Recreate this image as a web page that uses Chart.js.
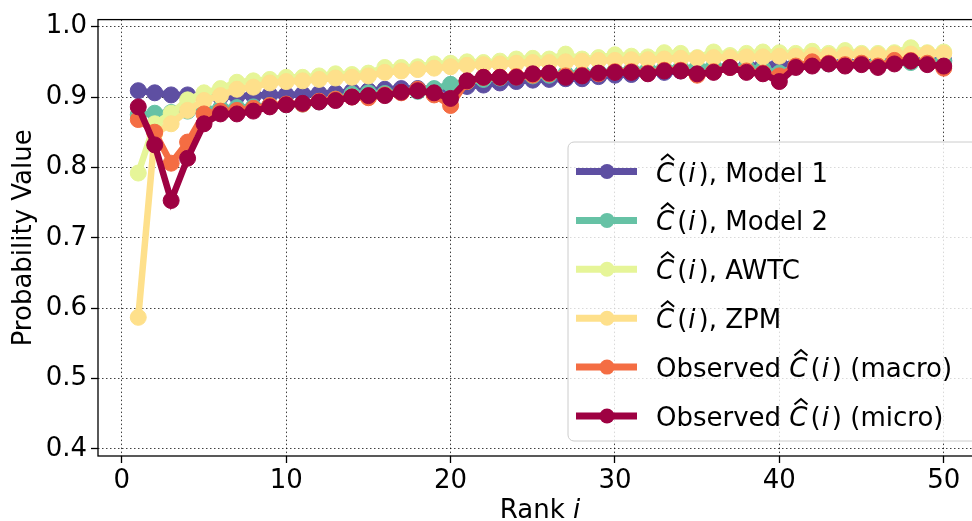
<!DOCTYPE html>
<html>
<head>
<meta charset="utf-8">
<script src="https://cdn.jsdelivr.net/npm/chart.js@4.4.1/dist/chart.umd.min.js"></script>
<style>
  html, body { margin: 0; padding: 0; background: #fff; overflow: hidden; }
  #wrap { width: 972px; height: 521px; overflow: hidden; }
</style>
</head>
<body>
<div id="wrap"><canvas id="rankChart" width="990" height="521"></canvas></div>
<script>
// rank positions on the x axis
const ranks = [1, 2, 3, 4, 5, 6, 7, 8, 9, 10, 11, 12, 13, 14, 15, 16, 17, 18, 19, 20,
               21, 22, 23, 24, 25, 26, 27, 28, 29, 30, 31, 32, 33, 34, 35, 36, 37, 38, 39, 40,
               41, 42, 43, 44, 45, 46, 47, 48, 49, 50];

const model1 = [0.909, 0.906, 0.903, 0.903, 0.900, 0.900, 0.901, 0.902, 0.903, 0.903,
                0.904, 0.905, 0.906, 0.908, 0.909, 0.911, 0.912, 0.912, 0.911, 0.913,
                0.915, 0.917, 0.920, 0.922, 0.924, 0.925, 0.926, 0.926, 0.929, 0.931,
                0.932, 0.934, 0.935, 0.937, 0.939, 0.941, 0.942, 0.944, 0.945, 0.947,
                0.946, 0.947, 0.948, 0.949, 0.949, 0.950, 0.951, 0.951, 0.952, 0.952];
const model2 = [0.875, 0.877, 0.878, 0.880, 0.882, 0.884, 0.885, 0.886, 0.888, 0.889,
                0.890, 0.893, 0.897, 0.904, 0.906, 0.905, 0.907, 0.908, 0.912, 0.918,
                0.922, 0.925, 0.927, 0.928, 0.930, 0.931, 0.933, 0.934, 0.935, 0.937,
                0.938, 0.939, 0.940, 0.941, 0.942, 0.943, 0.943, 0.942, 0.940, 0.934,
                0.943, 0.946, 0.947, 0.947, 0.948, 0.948, 0.949, 0.949, 0.950, 0.950];
const awtc   = [0.792, 0.862, 0.877, 0.896, 0.906, 0.912, 0.921, 0.923, 0.925, 0.928,
                0.928, 0.930, 0.933, 0.932, 0.934, 0.942, 0.942, 0.943, 0.947, 0.948,
                0.950, 0.949, 0.951, 0.954, 0.955, 0.954, 0.961, 0.954, 0.956, 0.960,
                0.958, 0.957, 0.963, 0.962, 0.956, 0.964, 0.959, 0.962, 0.964, 0.963,
                0.962, 0.965, 0.962, 0.966, 0.962, 0.962, 0.963, 0.970, 0.963, 0.964];
const zpm    = [0.587, 0.848, 0.862, 0.881, 0.895, 0.902, 0.911, 0.914, 0.920, 0.922,
                0.923, 0.925, 0.927, 0.928, 0.930, 0.935, 0.937, 0.939, 0.941, 0.943,
                0.945, 0.946, 0.947, 0.948, 0.949, 0.949, 0.950, 0.951, 0.952, 0.952,
                0.953, 0.953, 0.954, 0.955, 0.955, 0.956, 0.956, 0.957, 0.957, 0.958,
                0.958, 0.959, 0.959, 0.960, 0.960, 0.960, 0.961, 0.961, 0.962, 0.962];
const macro  = [0.868, 0.850, 0.806, 0.836, 0.876, 0.880, 0.881, 0.884, 0.888, 0.890,
                0.890, 0.894, 0.897, 0.900, 0.899, 0.903, 0.906, 0.911, 0.903, 0.888,
                0.922, 0.928, 0.928, 0.929, 0.931, 0.933, 0.930, 0.931, 0.933, 0.936,
                0.936, 0.934, 0.938, 0.938, 0.931, 0.936, 0.942, 0.937, 0.934, 0.930,
                0.944, 0.950, 0.948, 0.946, 0.948, 0.944, 0.952, 0.952, 0.948, 0.941];
const micro  = [0.886, 0.832, 0.753, 0.813, 0.862, 0.876, 0.876, 0.880, 0.886, 0.889,
                0.891, 0.893, 0.895, 0.900, 0.902, 0.902, 0.907, 0.909, 0.906, 0.898,
                0.923, 0.928, 0.928, 0.928, 0.933, 0.934, 0.928, 0.930, 0.934, 0.935,
                0.935, 0.933, 0.937, 0.937, 0.933, 0.935, 0.942, 0.935, 0.933, 0.922,
                0.942, 0.944, 0.947, 0.944, 0.946, 0.942, 0.947, 0.951, 0.946, 0.944];

const seriesValues = [model1, model2, awtc, zpm, macro, micro];
const seriesColors = ['#5e4fa2', '#66c2a5', '#e6f598', '#fee08b', '#f46d43', '#9e0142'];
// legend text around the C-hat(i) symbol
const legendBefore = ['', '', '', '', 'Observed ', 'Observed '];
const legendAfter  = [', Model 1', ', Model 2', ', AWTC', ', ZPM', ' (macro)', ' (micro)'];

const xTicks = [0, 10, 20, 30, 40, 50];
const yTicks = [0.4, 0.5, 0.6, 0.7, 0.8, 0.9, 1.0];

const FONT = '"DejaVu Sans", sans-serif';
const FS = 26;

// draws  [before] C-hat(i) [after]  starting at x, baseline y
function drawCHat(ctx, x, y, before, after) {
  const up = FS + 'px ' + FONT;
  const it = 'italic ' + FS + 'px ' + FONT;
  ctx.textAlign = 'left';
  ctx.textBaseline = 'alphabetic';
  ctx.fillStyle = '#000';
  ctx.font = up;
  ctx.fillText(before, x, y);
  x += ctx.measureText(before).width;
  ctx.font = it;
  ctx.fillText('C', x, y);
  const cw = ctx.measureText('C').width;
  // circumflex over the C
  const hx = x + cw * 0.64;
  ctx.save();
  ctx.strokeStyle = '#000';
  ctx.lineWidth = 2;
  ctx.beginPath();
  ctx.moveTo(hx - 6.5, y - 21.5);
  ctx.lineTo(hx, y - 27);
  ctx.lineTo(hx + 6.5, y - 21.5);
  ctx.stroke();
  ctx.restore();
  x += cw + 3;
  ctx.font = up;
  ctx.fillText('(', x, y);
  x += ctx.measureText('(').width + 1;
  ctx.font = it;
  ctx.fillText('i', x, y);
  x += ctx.measureText('i').width + 3;
  ctx.font = up;
  ctx.fillText(')' + after, x, y);
}

const frameAndLegend = {
  id: 'frameAndLegend',
  afterDatasetsDraw(chart) {
    const { ctx, chartArea: a } = chart;
    ctx.save();
    ctx.strokeStyle = '#000';
    ctx.lineWidth = 1.3;
    ctx.strokeRect(a.left, a.top, a.right - a.left, a.bottom - a.top);
    ctx.restore();
  },
  afterDraw(chart) {
    const { ctx, chartArea: a } = chart;
    ctx.save();
    // x axis title: Rank i
    ctx.font = FS + 'px ' + FONT;
    const w1 = ctx.measureText('Rank ').width;
    ctx.font = 'italic ' + FS + 'px ' + FONT;
    const w2 = ctx.measureText('i').width;
    const cx = (a.left + a.right) / 2 - 1;
    let tx = cx - (w1 + w2) / 2;
    ctx.fillStyle = '#000';
    ctx.textBaseline = 'alphabetic';
    ctx.textAlign = 'left';
    ctx.font = FS + 'px ' + FONT;
    ctx.fillText('Rank ', tx, 518);
    ctx.font = 'italic ' + FS + 'px ' + FONT;
    ctx.fillText('i', tx + w1, 518);

    // legend box, running past the right edge of the page
    const bx = 568, by = 142, bw = a.right - bx, bh = 299, r = 6;
    ctx.beginPath();
    ctx.roundRect(bx, by, bw, bh, r);
    ctx.fillStyle = 'rgba(255,255,255,0.8)';
    ctx.fill();
    ctx.strokeStyle = '#cccccc';
    ctx.lineWidth = 1;
    ctx.stroke();

    seriesColors.forEach((c, i) => {
      const ry = 171.5 + i * 48.9;
      ctx.strokeStyle = c;
      ctx.lineWidth = 7;
      ctx.lineCap = 'butt';
      ctx.beginPath();
      ctx.moveTo(576, ry);
      ctx.lineTo(637, ry);
      ctx.stroke();
      ctx.fillStyle = c;
      ctx.beginPath();
      ctx.arc(607, ry, 7.5, 0, Math.PI * 2);
      ctx.fill();
      drawCHat(ctx, 656, ry + 10, legendBefore[i], legendAfter[i]);
    });
    ctx.restore();
  }
};

const datasets = seriesValues.map((vals, i) => ({
  data: ranks.map((r, k) => ({ x: r, y: vals[k] })),
  borderColor: seriesColors[i],
  backgroundColor: seriesColors[i],
  pointBackgroundColor: seriesColors[i],
  pointBorderColor: seriesColors[i],
  borderWidth: 6.5,
  pointRadius: 8,
  pointHoverRadius: 8,
  pointBorderWidth: 1,
  tension: 0,
  // later series sit on top
  order: seriesValues.length - i
}));

const gridStyle = {
  color: 'rgba(0,0,0,0.75)', lineWidth: 1, borderDash: [1.5, 2.5],
  tickLength: 7, tickColor: '#000', tickWidth: 1.3, tickBorderDash: []
};
// v4 reads the grid dash from the border options
const borderStyle = { display: false, dash: [1.5, 2.5] };

new Chart(document.getElementById('rankChart'), {
  type: 'line',
  data: { datasets },
  plugins: [frameAndLegend],
  options: {
    responsive: false,
    animation: false,
    events: [],
    layout: { padding: { top: 14, right: 6, left: 0, bottom: 0 }, autoPadding: false },
    plugins: { legend: { display: false }, tooltip: { enabled: false } },
    scales: {
      x: {
        type: 'linear',
        min: -1.45,
        max: 52.45,
        afterFit: s => { s.height = 65; },
        afterBuildTicks: s => { s.ticks = xTicks.map(v => ({ value: v })); },
        grid: gridStyle,
        border: borderStyle,
        ticks: { font: { family: FONT, size: FS }, color: '#000', padding: 3, maxRotation: 0 }
      },
      y: {
        type: 'linear',
        min: 0.39,
        max: 1.01,
        afterFit: s => { s.width = 98; },
        afterBuildTicks: s => { s.ticks = yTicks.map(v => ({ value: v })); },
        grid: gridStyle,
        border: borderStyle,
        ticks: {
          font: { family: FONT, size: FS }, color: '#000', padding: 4,
          callback: v => v.toFixed(1)
        },
        title: {
          display: true, text: 'Probability Value',
          font: { family: FONT, size: FS }, color: '#000', padding: { top: 9, bottom: 0 }
        }
      }
    }
  }
});
</script>
</body>
</html>
